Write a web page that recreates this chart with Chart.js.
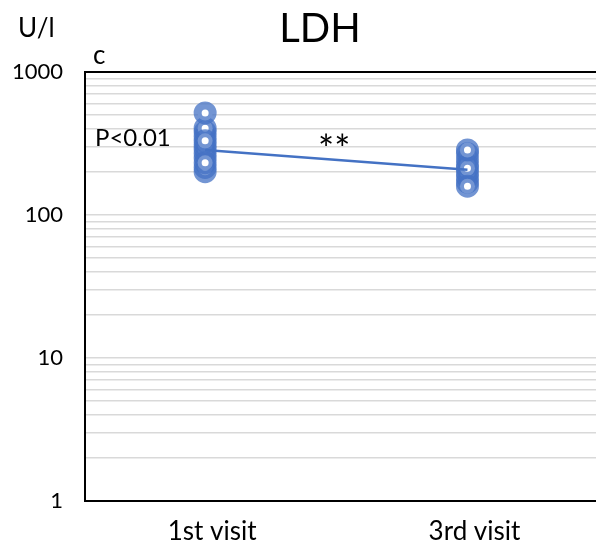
<!DOCTYPE html>
<html>
<head>
<meta charset="utf-8">
<script src="https://cdn.jsdelivr.net/npm/chart.js@4.4.1/dist/chart.umd.min.js"></script>
<style>
  html, body { margin: 0; padding: 0; background: #fff; overflow: hidden; }
  #c { display: block; }
</style>
</head>
<body>
<canvas id="c" width="596" height="548"></canvas>
<script>
// ---- data ----
const categories = ['1st visit', '3rd visit'];
const visit1Values = [201, 215, 250, 270, 290, 310, 355, 380, 405, 517, 232, 330];
const visit3Values = [170, 184, 198, 245, 268, 225, 212, 285, 159];
const meanValues = [285, 207];
const majorTicks = [1, 10, 100, 1000];
const minorSteps = [1, 2, 3, 4, 5, 6, 7, 8, 9];
const titleText = 'LDH';
const unitText = 'U/l';
const panelText = 'c';
const pText = 'P<0.01';
const sigText = '**';

// ---- build ----
const yTickValues = [];
majorTicks.forEach((m, i) => {
  if (i === majorTicks.length - 1) { yTickValues.push(m); return; }
  minorSteps.forEach(s => yTickValues.push(m * s));
});

const ringColor = 'rgba(68,114,196,0.75)';
const FONT = 'Lato, "Open Sans", sans-serif';

const textPlugin = {
  id: 'texts',
  afterDraw(chart) {
    const ctx = chart.ctx;
    ctx.save();
    ctx.fillStyle = '#000';
    ctx.textBaseline = 'alphabetic';
    ctx.font = '40px ' + FONT;
    ctx.textAlign = 'center';
    ctx.fillText(titleText, 320, 42);
    ctx.textAlign = 'left';
    ctx.font = '26px ' + FONT;
    ctx.fillText(unitText, 18, 37);
    ctx.fillText(panelText, 93, 64);
    ctx.font = '24px ' + FONT;
    ctx.fillText(pText, 95, 146);
    ctx.font = '38px ' + FONT;
    ctx.fillText(sigText, 318, 163);
    ctx.restore();
  }
};

new Chart(document.getElementById('c'), {
  type: 'scatter',
  data: {
    datasets: [
      {
        label: 'mean',
        type: 'line',
        data: meanValues.map((v, i) => ({ x: i + 1, y: v })),
        borderColor: '#4472C4',
        borderWidth: 2.5,
        pointRadius: 0,
        fill: false
      },
      {
        label: categories[0],
        data: visit1Values.map(v => ({ x: 1, y: v })),
        pointRadius: 7.5,
        borderWidth: 8,
        borderColor: ringColor,
        backgroundColor: '#ffffff'
      },
      {
        label: categories[1],
        data: visit3Values.map(v => ({ x: 2, y: v })),
        pointRadius: 7.5,
        borderWidth: 8,
        borderColor: ringColor,
        backgroundColor: '#ffffff'
      }
    ]
  },
  options: {
    responsive: false,
    animation: false,
    devicePixelRatio: 1,
    layout: { autoPadding: false, padding: { top: 72, left: 0, right: 0, bottom: 0 } },
    plugins: { legend: { display: false }, tooltip: { enabled: false }, title: { display: false } },
    scales: {
      x: {
        type: 'linear',
        min: 0.542,
        max: 2.49,
        afterBuildTicks(scale) { scale.ticks = categories.map((c, i) => ({ value: i + 1 })); },
        afterFit(scale) { scale.height = 47; scale.paddingLeft = 0; scale.paddingRight = 0; },
        grid: { display: false, drawTicks: false },
        border: { color: '#000', width: 2 },
        ticks: {
          padding: 15,
          labelOffset: 7,
          color: '#000',
          font: { family: FONT, size: 26 },
          callback: (v) => categories[Math.round(v) - 1] || ''
        }
      },
      y: {
        type: 'logarithmic',
        min: 1,
        max: 1000,
        afterBuildTicks(scale) { scale.ticks = yTickValues.map(v => ({ value: v })); },
        afterFit(scale) { scale.width = 85; scale.paddingTop = 0; scale.paddingBottom = 0; },
        grid: {
          drawTicks: false,
          color: (c) => (c.tick && (c.tick.value === 1000 || c.tick.value === 1)) ? '#000' : '#d9d9d9',
          lineWidth: (c) => (c.tick && (c.tick.value === 1000 || c.tick.value === 1)) ? 2 : 1.5
        },
        border: { color: '#000', width: 2 },
        ticks: {
          padding: 22,
          color: '#000',
          font: { family: FONT, size: 22 },
          autoSkip: false,
          callback: (v) => majorTicks.includes(v) ? String(v) : ''
        }
      }
    }
  },
  plugins: [textPlugin]
});
</script>
</body>
</html>
